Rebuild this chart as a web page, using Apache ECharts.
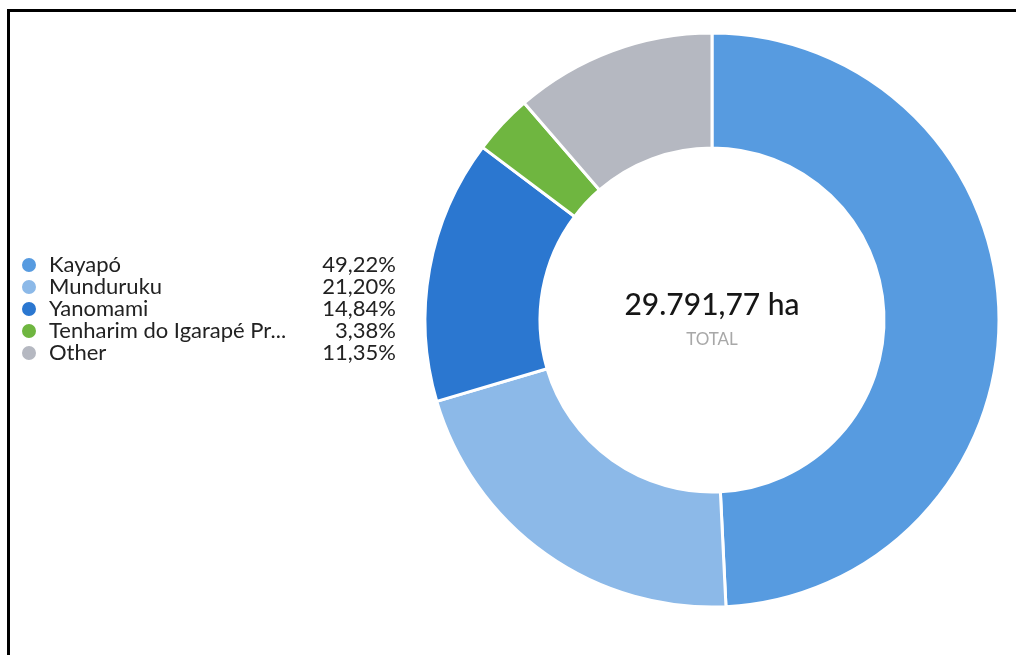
<!DOCTYPE html>
<html>
<head>
<meta charset="utf-8">
<title>Área por Terra Indígena</title>
<script src="https://cdn.jsdelivr.net/npm/echarts@6/dist/echarts.min.js"></script>
<style>
  html, body { margin: 0; padding: 0; background: #fff; overflow: hidden; width: 1016px; height: 655px; }
  #chart { position: absolute; left: 0; top: 0; width: 1016px; height: 655px; }
  #frame { position: absolute; left: 7px; top: 9px; right: -40px; bottom: -40px;
           border-top: 3px solid #000; border-left: 3px solid #000; pointer-events: none; }
</style>
</head>
<body>
<div id="chart"></div>
<div id="frame"></div>
<script>
// Share of deforested area by indigenous land (percent of total)
const lands = ['Kayapó', 'Munduruku', 'Yanomami', 'Tenharim do Igarapé Preto', 'Other'];
const shares = [49.22, 21.20, 14.84, 3.38, 11.35];
const colors = ['#579be0', '#8cb9e8', '#2b77d0', '#6fb640', '#b5b8c1'];
const totalLabel = '29.791,77 ha';
const totalCaption = 'TOTAL';

const fmtPct = v => v.toFixed(2).replace('.', ',') + '%';
const shorten = s => (s.length > 22 ? s.slice(0, 22) + '...' : s);

const chart = echarts.init(document.getElementById('chart'));
const cx = 712, cy = 320;

chart.setOption({
  animation: false,
  textStyle: { fontFamily: 'Lato' },
  legend: {
    orient: 'vertical',
    left: 15,
    top: 249,
    itemWidth: 16,
    itemHeight: 16,
    itemGap: 0,
    icon: 'circle',
    selectedMode: false,
    data: lands,
    formatter: name => {
      const i = lands.indexOf(name);
      return '{n|' + shorten(name) + '}{p|' + fmtPct(shares[i]) + '}';
    },
    textStyle: {
      rich: {
        n: { fontFamily: 'Lato', fontSize: 22, color: '#222', width: 272, lineHeight: 28, padding: [0, 0, 0, 7] },
        p: { fontFamily: 'Lato', fontSize: 22, color: '#222', width: 75, align: 'right', lineHeight: 28 }
      }
    }
  },
  graphic: [
    { type: 'text', x: cx, y: cy - 15,
      style: { text: totalLabel, fill: '#161616', font: '500 30px Lato', align: 'center', verticalAlign: 'middle' } },
    { type: 'text', x: cx, y: cy + 20,
      style: { text: totalCaption, fill: '#a8a8a8', font: '17px Lato', align: 'center', verticalAlign: 'middle' } }
  ],
  series: [{
    type: 'pie',
    center: [cx, cy],
    radius: [172, 287],
    startAngle: 90,
    clockwise: true,
    label: { show: false },
    labelLine: { show: false },
    emphasis: { disabled: true },
    itemStyle: { borderColor: '#fff', borderWidth: 3 },
    data: lands.map((n, i) => ({ name: n, value: shares[i], itemStyle: { color: colors[i] } }))
  }]
});
</script>
</body>
</html>
